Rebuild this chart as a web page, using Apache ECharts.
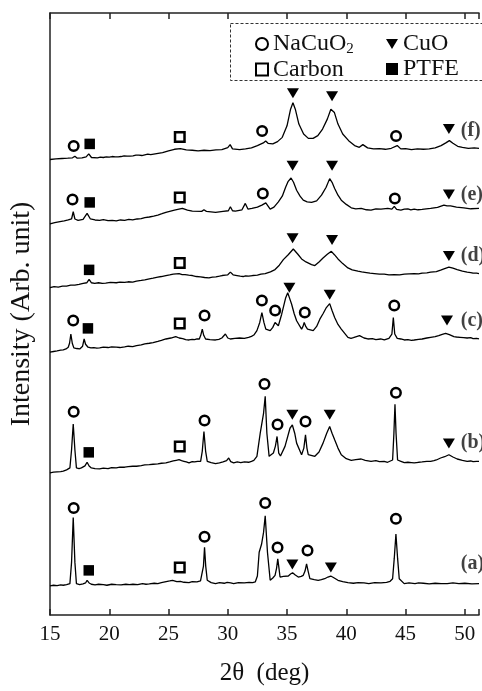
<!DOCTYPE html>
<html>
<head>
<meta charset="utf-8">
<script src="https://cdn.jsdelivr.net/npm/echarts@6/dist/echarts.min.js"></script>
<style>
  html, body { margin: 0; padding: 0; background: #fff; }
  #chart { width: 482px; height: 691px; }
</style>
</head>
<body>
<div id="chart"></div>
<script>
// 2θ ticks
const xTicks = [15, 20, 25, 30, 35, 40, 45, 50];

// patterns: [2θ, intensity above own baseline]
const traceA = [[15.0,0],[15.3,0.7],[15.6,0.3],[15.9,1],[16.12,0.7],[16.4,1.3],[16.68,2.3],[16.82,24],[16.96,69],[17.1,24],[17.23,2.3],[17.5,1.3],[17.79,2],[18.0,3],[18.13,5.7],[18.3,3],[18.49,1.7],[18.8,1],[19.1,1.7],[19.5,1.3],[19.8,0.7],[20.2,1.7],[20.59,1.3],[21.0,1],[21.4,1.7],[21.7,1.3],[22.0,1.7],[22.4,1.3],[22.8,2.3],[23.1,1.7],[23.38,2],[23.8,2.7],[24.1,2.3],[24.4,3.3],[24.8,4.3],[25.1,5],[25.34,5.7],[25.7,4.3],[26.0,4.7],[26.3,3.7],[26.73,3.3],[27.0,4.3],[27.4,4],[27.7,5],[27.85,5.7],[27.95,20],[28.04,39],[28.14,20],[28.27,5.7],[28.6,3.3],[28.97,2.3],[29.3,3.3],[29.7,2.7],[29.95,3.7],[30.08,5.7],[30.25,3],[30.5,2.3],[30.9,3.3],[31.4,3],[31.8,3.7],[32.1,3.3],[32.32,4],[32.5,10],[32.65,34],[32.85,42],[33.02,54],[33.16,70.7],[33.35,34],[33.58,5.7],[33.8,8],[33.99,10.7],[34.12,18],[34.22,27.3],[34.32,18],[34.41,9],[34.7,9.7],[35.11,10],[35.3,12],[35.47,13.3],[35.7,11],[35.95,9],[36.2,9.7],[36.37,10.7],[36.52,15],[36.65,22.3],[36.78,15],[36.93,7.3],[37.3,6.3],[37.63,5.7],[37.9,6.3],[38.18,7.3],[38.45,9],[38.69,10],[38.95,8.3],[39.3,5.7],[39.7,4.3],[40.14,3.3],[40.6,2.7],[41.0,3.3],[41.5,3],[41.9,2.3],[42.4,3.3],[42.93,3],[43.4,3.7],[43.7,4.7],[43.91,7.3],[44.05,28],[44.19,52.3],[44.33,28],[44.47,7.3],[44.89,2.3],[45.3,3],[45.8,2.3],[46.1,3],[46.5,2.7],[47.0,2],[47.5,2.7],[48.0,2.3],[48.52,2.3],[49.0,3],[49.5,2.3],[50.0,2.7],[50.6,2],[51.2,2.3]];
const traceB = [[15.0,0],[15.3,0.7],[15.6,1],[15.9,1.3],[16.12,1.7],[16.4,3],[16.68,5],[16.82,23.3],[16.96,49.3],[17.1,23.3],[17.23,5],[17.45,4.3],[17.65,5],[17.95,7],[18.13,10.7],[18.3,7],[18.49,5],[18.8,4.3],[19.19,4],[19.5,4.7],[19.9,4.3],[20.2,5.3],[20.59,5],[20.9,5.7],[21.3,5.7],[21.6,6.3],[21.98,6.7],[22.3,6.7],[22.7,7.3],[23.0,8],[23.38,8.3],[23.7,8.7],[24.1,9],[24.4,9.7],[24.78,10],[25.1,11],[25.4,12],[25.65,12.7],[25.89,13.3],[26.1,12.3],[26.3,11.7],[26.5,11],[26.73,10],[27.0,11.3],[27.2,11],[27.45,11.7],[27.71,11.7],[27.85,22],[27.99,41.7],[28.13,22],[28.27,11.7],[28.6,10.3],[28.97,9.3],[29.3,10],[29.6,11],[29.9,12.3],[30.08,15],[30.25,11.3],[30.5,10],[30.8,11],[31.1,10.3],[31.4,11],[31.76,10.7],[32.0,11.7],[32.2,12.7],[32.46,16.7],[32.74,40],[33.02,60],[33.16,77.3],[33.3,40],[33.49,16.7],[33.85,20],[34.02,27],[34.16,36.7],[34.3,20],[34.45,17],[34.83,26.7],[35.25,45],[35.45,48.3],[35.65,40],[35.81,30],[36.23,18.3],[36.42,25],[36.56,38.3],[36.68,25],[36.79,18.3],[37.35,16.7],[37.7,21],[38.04,30],[38.35,40],[38.6,46.7],[38.8,40],[39.02,33.3],[39.3,25],[39.58,18.3],[40.0,14.3],[40.42,12.7],[40.8,13.3],[41.26,14],[41.6,12.7],[42.09,11.7],[42.5,12.3],[42.8,11.3],[43.2,11.7],[43.49,10.7],[43.91,13],[44.02,40],[44.11,69.3],[44.2,40],[44.33,13],[44.61,11.7],[44.9,10.3],[45.2,10.7],[45.5,10.3],[45.73,10],[46.1,10.7],[46.4,11],[46.8,11.7],[47.12,11.7],[47.4,12.3],[47.6,13],[47.96,15],[48.3,16.3],[48.66,18.3],[49.0,16],[49.36,14],[49.8,12.7],[50.2,11.7],[50.5,12],[50.7,11.3],[51.0,11.7],[51.2,11.7]];
const traceC = [[15.0,0],[15.3,0.7],[15.6,1.3],[15.9,2],[16.12,2.3],[16.35,3.3],[16.54,5],[16.65,9],[16.76,18.3],[16.88,9],[17.01,4.3],[17.25,3.7],[17.51,3.3],[17.75,6],[17.88,13.3],[18.0,8],[18.21,5],[18.45,4.3],[18.7,4.7],[18.95,4],[19.19,4.3],[19.5,5],[19.9,4.7],[20.2,5.3],[20.59,5],[20.9,4.7],[21.3,5.3],[21.6,6],[21.98,5.7],[22.3,6.7],[22.7,7.3],[23.0,8.3],[23.38,9],[23.7,9.7],[24.1,11],[24.4,12],[24.78,13.3],[25.2,14.3],[25.61,15.7],[25.9,14.3],[26.2,13.7],[26.45,12.7],[26.73,12.3],[27.0,13],[27.2,12.7],[27.4,13.3],[27.6,13.3],[27.72,17],[27.85,23.3],[27.97,17],[28.13,13.3],[28.5,12.7],[28.97,12.3],[29.25,13],[29.5,14.3],[29.8,18.3],[30.0,14.3],[30.22,13.3],[30.6,14],[31.0,14.3],[31.4,14],[31.76,15],[32.0,16],[32.2,17.3],[32.46,21.7],[32.7,30],[32.88,40],[33.05,30],[33.21,23.3],[33.58,21.7],[33.8,25],[33.99,30],[34.27,26.7],[34.55,38.3],[34.89,55],[35.06,60],[35.2,55],[35.39,48.3],[35.6,39],[35.81,31.7],[36.23,23.3],[36.35,26],[36.45,30],[36.58,26],[36.73,23.3],[37.21,21.7],[37.5,26],[37.77,33.3],[38.05,39],[38.32,45],[38.6,49],[38.8,42],[39.02,35],[39.3,28],[39.58,23.3],[40.14,15],[40.4,14],[40.6,14.7],[41.12,16.7],[41.5,14.3],[41.82,13.3],[42.2,13.7],[42.5,12.7],[42.9,13.3],[43.21,12.3],[43.6,14],[43.85,18.3],[43.97,35],[44.09,18.3],[44.3,14],[44.61,13.3],[44.9,12.3],[45.2,12.7],[45.5,12],[45.73,12.3],[46.1,13],[46.4,13.3],[46.8,14.3],[47.12,15],[47.5,15.7],[47.8,16.7],[48.1,18],[48.38,19],[48.7,17.7],[49.08,15.7],[49.3,15.3],[49.6,15],[49.9,14.7],[50.2,14.3],[50.5,14.7],[50.7,13.7],[51.0,14],[51.2,13.3]];
const traceD = [[15.0,0],[15.35,1],[15.7,0.7],[16.05,1.7],[16.4,1.7],[16.75,2.7],[17.1,2.7],[17.45,3.3],[17.8,4.3],[18.1,5],[18.3,8.3],[18.5,5],[18.77,4.3],[19.1,5],[19.4,4.3],[19.7,4.7],[20.1,5.3],[20.59,5],[20.9,5.7],[21.3,5.3],[21.6,6],[21.98,5.7],[22.3,6.7],[22.7,7.3],[23.0,8],[23.38,9],[23.7,9.7],[24.1,10.7],[24.4,11.3],[24.78,12.3],[25.1,13],[25.4,13.7],[25.89,14.3],[26.15,13.3],[26.4,13.3],[26.7,12.7],[27.01,12.3],[27.35,11.3],[27.7,11],[28.05,10.3],[28.41,10],[28.7,10.7],[29.0,11],[29.3,11.7],[29.53,12.3],[29.8,12.7],[30.0,13],[30.22,15.7],[30.45,13],[30.78,12.3],[31.05,11.7],[31.3,11.3],[31.5,12],[31.76,11.7],[32.1,12.3],[32.5,12.7],[32.8,13.7],[33.16,14.3],[33.6,16],[33.99,18.3],[34.35,22.7],[34.69,28.3],[35.1,33.3],[35.53,39],[35.9,34],[36.23,29],[36.6,26],[37.07,23.3],[37.35,22.3],[37.7,26],[38.04,30],[38.4,33.7],[38.74,36.7],[39.0,33.3],[39.3,29],[39.7,24.3],[40.14,20],[40.5,18],[40.98,16.7],[41.3,16],[41.7,15.3],[42.0,14.7],[42.37,14.3],[42.8,13.7],[43.2,13.7],[43.6,13],[44.05,13.3],[44.5,13],[44.9,13.7],[45.3,14],[45.73,14.3],[46.1,14],[46.4,14.7],[46.8,15],[47.12,15.7],[47.6,16.3],[47.96,17.7],[48.3,19.3],[48.66,20.7],[49.0,19.7],[49.36,18.3],[49.8,16.7],[50.2,15.7],[50.5,15.3],[50.7,14.7],[51.0,14.7],[51.2,14.3]];
const traceE = [[15.0,0],[15.4,1.3],[15.84,2.3],[16.2,3],[16.54,4],[16.82,5],[16.96,12.3],[17.1,5],[17.37,3.7],[17.79,4.7],[18.13,10.7],[18.41,5],[18.8,4],[19.19,3.7],[19.5,4.3],[19.9,3.3],[20.25,3.7],[20.59,3],[20.95,4],[21.3,3.7],[21.65,4.7],[21.98,4],[22.35,5],[22.7,5.3],[23.0,6.3],[23.38,7],[23.75,8],[24.1,9],[24.45,10.3],[24.78,11.7],[25.5,14],[26.17,15.7],[26.6,14],[27.01,13],[27.8,12.7],[27.99,14.3],[28.2,12.7],[28.97,11.7],[29.6,12.7],[30.05,13.3],[30.22,17.3],[30.4,13.3],[30.64,13],[31.2,14.3],[31.48,20.7],[31.7,15],[32.04,15.7],[32.5,17],[32.88,19],[33.21,21.3],[33.58,15],[33.9,17],[34.27,22.3],[34.6,28],[34.89,37.3],[35.1,43],[35.34,46.3],[35.55,42],[35.81,34],[36.1,28],[36.37,24],[36.7,22.3],[37.07,21.7],[37.5,23.3],[37.91,29],[38.3,37],[38.6,45.7],[38.8,42],[39.02,35.7],[39.3,29],[39.58,24],[40.0,19.7],[40.42,16.3],[40.8,15.3],[41.26,15.7],[41.7,14.3],[42.09,14],[42.5,15.3],[42.93,15],[43.5,15.7],[43.85,15],[44.05,17.7],[44.25,14.7],[44.61,14],[44.9,15],[45.2,15.3],[45.45,14.3],[45.73,15],[46.05,14.3],[46.4,14.7],[46.75,15.3],[47.12,15.7],[47.7,16.7],[48.24,19],[48.5,18.3],[48.8,18.3],[49.3,17],[49.92,16.3],[50.5,15.3],[51.2,15.7]];
const traceF = [[15.0,0],[15.5,0.7],[16.0,1],[16.5,1.3],[16.9,1.7],[17.1,3.3],[17.3,1.3],[17.7,1.7],[18.05,2.7],[18.27,5.7],[18.5,2],[19.0,1.7],[19.25,2.3],[19.5,2],[19.75,2.7],[20.0,2.3],[20.25,3],[20.5,2.7],[20.75,2.7],[21.0,3],[21.25,3.7],[21.5,3.3],[21.75,3.3],[22.0,3.7],[22.25,4.3],[22.5,4.3],[22.75,4],[23.0,4.7],[23.25,5.3],[23.5,5],[24.0,6],[24.5,7],[25.0,8.7],[25.5,10.3],[26.0,11],[26.5,9.7],[27.0,9.3],[27.5,8.7],[28.0,9.3],[28.5,9],[29.0,9.7],[29.5,10],[30.0,12],[30.2,15],[30.4,10.7],[31.0,10],[31.5,10.7],[32.0,11.7],[32.5,14],[33.0,16.7],[33.2,18.7],[33.4,16.3],[33.8,15.7],[34.2,18],[34.6,22.3],[35.0,34],[35.3,50.7],[35.5,57.3],[35.7,50.7],[36.0,35.7],[36.4,25.7],[36.8,21.3],[37.2,21.3],[37.6,24],[38.0,30.7],[38.4,40.7],[38.7,50.7],[38.85,52.3],[39.0,47.3],[39.3,35.7],[39.7,25.7],[40.2,19],[40.7,14],[41.1,12.3],[41.4,15],[41.8,11.7],[42.3,10.7],[42.8,11],[43.3,10.3],[43.8,11.3],[44.3,14],[44.6,10.7],[45.0,11],[45.5,10],[46.0,10.7],[46.5,10.3],[47.0,10.7],[47.5,11.7],[48.0,14],[48.4,16.7],[48.7,19],[49.0,16.3],[49.4,13.3],[49.8,12.3],[50.3,11.3],[50.8,11.7],[51.2,11.3]];

// vertical stacking offsets of each pattern
const offsets = { a: 29.3, b: 143.3, c: 265, d: 330, e: 394.3, f: 459.3 };

// phase markers [2θ, height]
const naCuO2Marks = [[17.0,473],[32.9,488],[44.2,483],[16.9,419],[32.96,425],[44.1,420],[16.96,297],[28.04,302],[32.88,317],[34.0,307],[36.5,305],[44.05,312],[17.0,205],[28.04,196],[33.1,233],[34.2,192],[36.56,195],[44.19,224],[17.0,108],[28.04,79],[33.16,113],[34.2,68],[36.73,65],[44.19,97]];
const cuoMarks = [[35.5,526],[38.8,523],[48.66,490],[35.47,453],[38.8,453],[48.66,424],[35.47,380],[38.8,378],[48.66,362],[35.2,330],[38.6,323],[48.5,297],[35.45,202],[38.6,202],[48.66,173],[35.45,51],[38.7,48]];
const carbonMarks = [[25.95,482],[25.95,421],[25.95,355],[25.95,294],[25.95,170],[25.95,48]];
const ptfeMarks = [[18.35,475],[18.35,416],[18.3,348],[18.2,289],[18.27,164],[18.27,45]];

// sample tags on the right
const sampleNames = ['(a)', '(b)', '(c)', '(d)', '(e)', '(f)'];
const sampleTagY = [52, 174, 297, 362, 424, 488];

const serif = "'Liberation Serif', 'Times New Roman', serif";

const traces = { a: traceA, b: traceB, c: traceC, d: traceD, e: traceE, f: traceF };

const lineSeries = Object.keys(traces).map(k => ({
  type: 'line',
  data: traces[k].map(p => [p[0], p[1] + offsets[k]]),
  showSymbol: false,
  silent: true,
  lineStyle: { color: '#000', width: 1.3 },
  z: 2
}));

const markStyle = {
  type: 'scatter',
  silent: true,
  z: 5
};

const downTriangle = 'path://M0,0L12,0L6,10Z';

const chart = echarts.init(document.getElementById('chart'));
chart.setOption({
  animation: false,
  backgroundColor: '#fff',
  grid: { left: 50, right: 0, top: 13, bottom: 71 },
  xAxis: [
    {
      type: 'value',
      min: 15,
      max: 51.2,
      interval: 5,
      name: '2θ  (deg)',
      nameLocation: 'middle',
      nameGap: 46,
      nameTextStyle: { fontFamily: serif, fontSize: 25, color: '#111' },
      axisLine: { lineStyle: { color: '#222', width: 1.5 } },
      axisTick: { inside: true, length: 6, lineStyle: { color: '#222', width: 1.5 } },
      axisLabel: {
        fontFamily: serif, fontSize: 21, color: '#111', margin: 9,
        formatter: v => (xTicks.indexOf(v) >= 0 ? String(v) : '')
      },
      splitLine: { show: false }
    },
    {
      type: 'value',
      position: 'top',
      min: 15,
      max: 51.2,
      interval: 5,
      axisLine: { lineStyle: { color: '#222', width: 1.5 } },
      axisTick: { inside: true, length: 6, lineStyle: { color: '#222', width: 1.5 } },
      axisLabel: { show: false },
      splitLine: { show: false }
    }
  ],
  yAxis: {
    type: 'value',
    min: 0,
    max: 607,
    name: 'Intensity (Arb. unit)',
    nameLocation: 'middle',
    nameGap: 14,
    nameTextStyle: { fontFamily: serif, fontSize: 28, color: '#111' },
    axisLine: { show: true, lineStyle: { color: '#222', width: 1.5 } },
    axisTick: { show: false },
    axisLabel: { show: false },
    splitLine: { show: false }
  },
  legend: [
    {
      left: 250, top: 27, orient: 'vertical',
      itemWidth: 12, itemHeight: 12, itemGap: 1, itemTextGap: 9,
      data: ['NaCuO2', 'Carbon'],
      formatter: n => (n === 'NaCuO2' ? '{t|NaCuO}{s|2}' : '{t|' + n + '}'),
      textStyle: {
        rich: {
          t: { fontFamily: serif, fontSize: 24, color: '#111', lineHeight: 24 },
          s: { fontFamily: serif, fontSize: 15, color: '#111', verticalAlign: 'bottom', padding: [10, 0, 0, 0] }
        }
      }
    },
    {
      left: 381, top: 27, orient: 'vertical',
      itemWidth: 12, itemHeight: 12, itemGap: 1, itemTextGap: 11,
      data: [{ name: 'CuO', icon: downTriangle }, 'PTFE'],
      formatter: n => '{t|' + n + '}',
      textStyle: {
        rich: { t: { fontFamily: serif, fontSize: 24, color: '#111', lineHeight: 24 } }
      }
    }
  ],
  graphic: [
    {
      type: 'rect',
      shape: { x: 230.5, y: 23.5, width: 260, height: 57 },
      style: { fill: 'none', stroke: '#333', lineWidth: 1, lineDash: [3, 2] },
      z: 10
    }
  ],
  series: [
    ...lineSeries,
    Object.assign({}, markStyle, {
      name: 'NaCuO2', data: naCuO2Marks, symbol: 'circle', symbolSize: 9.5,
      itemStyle: { color: '#fff', borderColor: '#000', borderWidth: 2.5, opacity: 1 }
    }),
    Object.assign({}, markStyle, {
      name: 'CuO', data: cuoMarks, symbol: 'triangle', symbolRotate: 180, symbolSize: [12, 10],
      itemStyle: { color: '#000', opacity: 1 }
    }),
    Object.assign({}, markStyle, {
      name: 'Carbon', data: carbonMarks, symbol: 'rect', symbolSize: 9.5,
      itemStyle: { color: '#fff', borderColor: '#000', borderWidth: 2.5, opacity: 1 }
    }),
    Object.assign({}, markStyle, {
      name: 'PTFE', data: ptfeMarks, symbol: 'rect', symbolSize: 10.5,
      itemStyle: { color: '#000', opacity: 1 }
    }),
    {
      type: 'scatter',
      silent: true,
      symbolSize: 1,
      itemStyle: { color: 'rgba(0,0,0,0)' },
      data: sampleNames.map((n, i) => ({ name: n, value: [49.62, sampleTagY[i]] })),
      label: {
        show: true,
        position: 'right',
        distance: 0,
        formatter: p => p.name,
        fontFamily: serif,
        fontSize: 20,
        fontWeight: 'bold',
        color: '#111'
      },
      z: 6
    }
  ]
});
</script>
</body>
</html>
